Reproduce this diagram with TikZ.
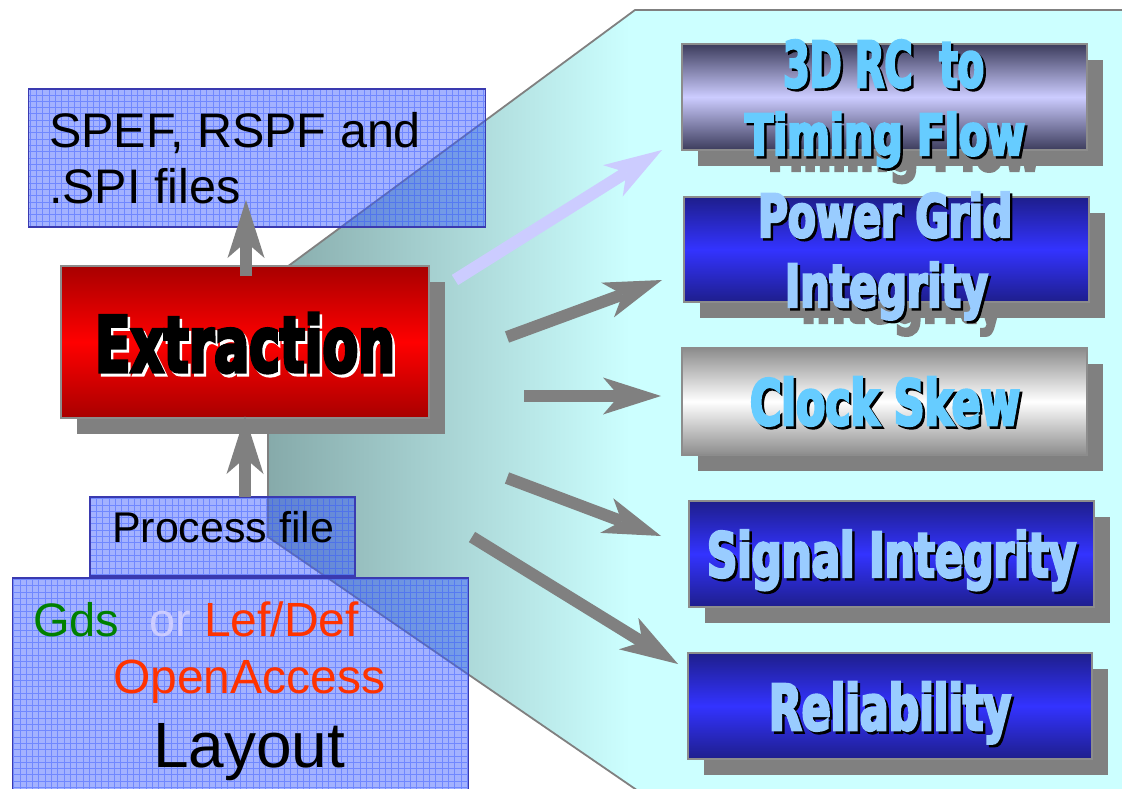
\documentclass[tikz,border=0pt]{standalone}
\usepackage{fontspec}
\usepackage{graphicx}
\setmainfont{Liberation Sans}
\newfontfamily\impactfont{DejaVu Sans}[FakeStretch=0.72,FakeBold=4]
\usetikzlibrary{arrows.meta,shadows}

\definecolor{panelcyan}{HTML}{CCFFFF}
\definecolor{panelteal}{HTML}{86AAAA}
\definecolor{edgegray}{HTML}{808080}
\definecolor{shadowgray}{HTML}{808080}
\definecolor{fileblue}{HTML}{3355FF}
\definecolor{fileedge}{HTML}{3A3AB0}
\definecolor{boxedge}{HTML}{8C8C8C}
\definecolor{reddark}{HTML}{A80000}
\definecolor{redlight}{HTML}{FF0000}
\definecolor{slatedark}{HTML}{3C3C5C}
\definecolor{slatelight}{HTML}{CCCCFF}
\definecolor{navydark}{HTML}{1E1E8C}
\definecolor{navylight}{HTML}{3333FF}
\definecolor{greydark}{HTML}{8C8C8C}
\definecolor{skyA}{HTML}{66CCFF}
\definecolor{skyB}{HTML}{99CCFF}
\definecolor{gdsgreen}{HTML}{008000}
\definecolor{orlav}{HTML}{CCCCFF}
\definecolor{fmtred}{HTML}{FF3300}
\definecolor{arrowgray}{HTML}{808080}
\definecolor{arrowlav}{HTML}{CCCCFF}

% condensed heavy lettering, stretched to a given width and height
\newcommand\fitimp[3]{\resizebox{#1pt}{#2pt}{\impactfont\bfseries #3}}

\tikzset{
  filebox/.style={draw=fileedge, line width=1.6pt, fill=fileblue, fill opacity=0.45,
    inner sep=0pt, outer sep=0pt, anchor=north west,
    path picture={\draw[fileblue, draw opacity=0.45, line width=0.9pt]
      (path picture bounding box.south west) grid[step=6.3pt]
      (path picture bounding box.north east);}},
  stepbox/.style={draw=boxedge, line width=1.5pt, inner sep=0pt, outer sep=0pt,
    anchor=north west,
    drop shadow={shadow xshift=16pt, shadow yshift=-16pt, fill=shadowgray, opacity=1}},
  redbox/.style={stepbox, top color=reddark, bottom color=reddark, middle color=redlight},
  slatebox/.style={stepbox, top color=slatedark, bottom color=slatedark, middle color=slatelight},
  navybox/.style={stepbox, top color=navydark, bottom color=navydark, middle color=navylight},
  greybox/.style={stepbox, top color=greydark, bottom color=greydark, middle color=white},
  plain/.style={anchor=base west, inner sep=0pt, outer sep=0pt},
  filetext/.style={plain, font=\fontsize{48.5}{56}\selectfont},
  imptext/.style={plain},
  fatarrow/.style={draw=arrowgray, line width=12pt,
    -{Stealth[length=58pt, width=37pt, inset=16pt, line width=0pt]}},
}

\begin{document}
\begin{tikzpicture}[x=1pt,y=-1pt]
\clip (0,0) rectangle (1122,789);
\useasboundingbox (0,0) rectangle (1122,789);
\fill[white] (0,0) rectangle (1122,789);

% the panel that fans out to the analyses
\fill[panelcyan] (635,10) -- (1130,10) -- (1130,795) -- (644,795) -- (268,537) -- (268,281) -- cycle;
\begin{scope}
  \clip (635,10) -- (1130,10) -- (1130,795) -- (644,795) -- (268,537) -- (268,281) -- cycle;
  \shade[left color=panelteal, right color=panelcyan] (268,0) rectangle (630,789);
\end{scope}
\draw[edgegray, line width=1.8pt] (635,10) -- (1130,10) -- (1130,795) -- (644,795) -- (268,537) -- (268,281) -- cycle;

% input and output files
\node[filebox, minimum width=457pt, minimum height=138pt] (spef) at (28.6,89) {};
\node[filebox, minimum width=456pt, minimum height=230pt] (layout) at (12.5,578) {};
\node[filebox, minimum width=265pt, minimum height=79pt] (proc) at (90,497) {};

\node[filetext] (spef1) at (49,148) {SPEF, RSPF and};
\node[filetext] (spef2) at (49,203) {.SPI files};
\node[plain, font=\fontsize{43}{50}\selectfont] (proct) at (112,542) {Process file};
\node[plain, font=\fontsize{47}{54}\selectfont, text=gdsgreen] (gds) at (33,636) {Gds};
\node[plain, font=\fontsize{47}{54}\selectfont, text=orlav] (orw) at (149,636) {or};
\node[plain, font=\fontsize{48}{56}\selectfont, text=fmtred] (lef) at (204,636) {Lef/Def};
\node[plain, font=\fontsize{48}{56}\selectfont, text=fmtred] (oa) at (113,693) {OpenAccess};
\node[plain, font=\fontsize{64}{72}\selectfont] (lay) at (153,767) {Layout};

% extraction engine
\node[redbox, minimum width=368pt, minimum height=152pt] (extr) at (61,266) {};
\node[imptext, text=white] (extrs) at (97.5,375) {\fitimp{300}{59}{Extraction}};
\node[imptext, text=black] (extrt) at (95,372) {\fitimp{300}{59}{Extraction}};

% vertical flow through the extractor
\coordinate (u1a) at (246,276);
\coordinate (u1b) at (246,200);
\coordinate (u2a) at (245,497);
\coordinate (u2b) at (245,416);
\draw[fatarrow] (u1a) -- (u1b);
\draw[fatarrow] (u2a) -- (u2b);

% shadow lettering that falls below the first two boxes
\node[imptext, text=shadowgray] (g1) at (761,171) {\fitimp{280}{43}{Timing Flow}};
\node[imptext, text=shadowgray] (g2) at (801,323) {\fitimp{203}{45}{Integrity}};

% analyses fed by the extracted parasitics
\node[slatebox, minimum width=405pt, minimum height=106pt] (rc) at (682,44) {};
\node[navybox, minimum width=405pt, minimum height=105pt] (pg) at (684,197) {};
\node[greybox, minimum width=405pt, minimum height=107pt] (ck) at (682,348) {};
\node[navybox, minimum width=405pt, minimum height=106pt] (si) at (689,501) {};
\node[navybox, minimum width=404pt, minimum height=106pt] (rel) at (688,653) {};

\node[imptext, text=black] at (785.5,89.5) {\fitimp{201}{47}{3D RC\ \ to}};
\node[imptext, text=skyA] (rc1) at (783,87) {\fitimp{201}{47}{3D RC\ \ to}};
\node[imptext, text=black] at (747.5,157.5) {\fitimp{280}{43}{Timing Flow}};
\node[imptext, text=skyA] (rc2) at (745,155) {\fitimp{280}{43}{Timing Flow}};

\node[imptext, text=black] at (760.5,239.5) {\fitimp{254}{45}{Power Grid}};
\node[imptext, text=skyB] (pg1) at (758,237) {\fitimp{254}{45}{Power Grid}};
\node[imptext, text=black] at (787.5,309.5) {\fitimp{203}{45}{Integrity}};
\node[imptext, text=skyB] (pg2) at (785,307) {\fitimp{203}{45}{Integrity}};

\node[imptext, text=black] at (752.5,427.5) {\fitimp{270}{48}{Clock Skew}};
\node[imptext, text=skyA] (ckt) at (750,425) {\fitimp{270}{48}{Clock Skew}};

\node[imptext, text=black] at (709.5,579.5) {\fitimp{369}{47}{Signal Integrity}};
\node[imptext, text=skyB] (sit) at (707,577) {\fitimp{369}{47}{Signal Integrity}};

\node[imptext, text=black] at (771.5,732.5) {\fitimp{242}{48}{Reliability}};
\node[imptext, text=skyB] (relt) at (769,730) {\fitimp{242}{48}{Reliability}};

% fan-out arrows
\coordinate (a1) at (455,280);
\coordinate (a2) at (507,337);
\coordinate (a3) at (524,396);
\coordinate (a4) at (507,478);
\coordinate (a5) at (472,537);
\coordinate (h1) at (662,150);
\coordinate (h2) at (662,280);
\coordinate (h3) at (661,396);
\coordinate (h4) at (661,536);
\coordinate (h5) at (678,664);
\draw[fatarrow, draw=arrowlav] (a1) -- (h1);
\draw[fatarrow] (a2) -- (h2);
\draw[fatarrow] (a3) -- (h3);
\draw[fatarrow] (a4) -- (h4);
\draw[fatarrow] (a5) -- (h5);
\end{tikzpicture}
\end{document}
